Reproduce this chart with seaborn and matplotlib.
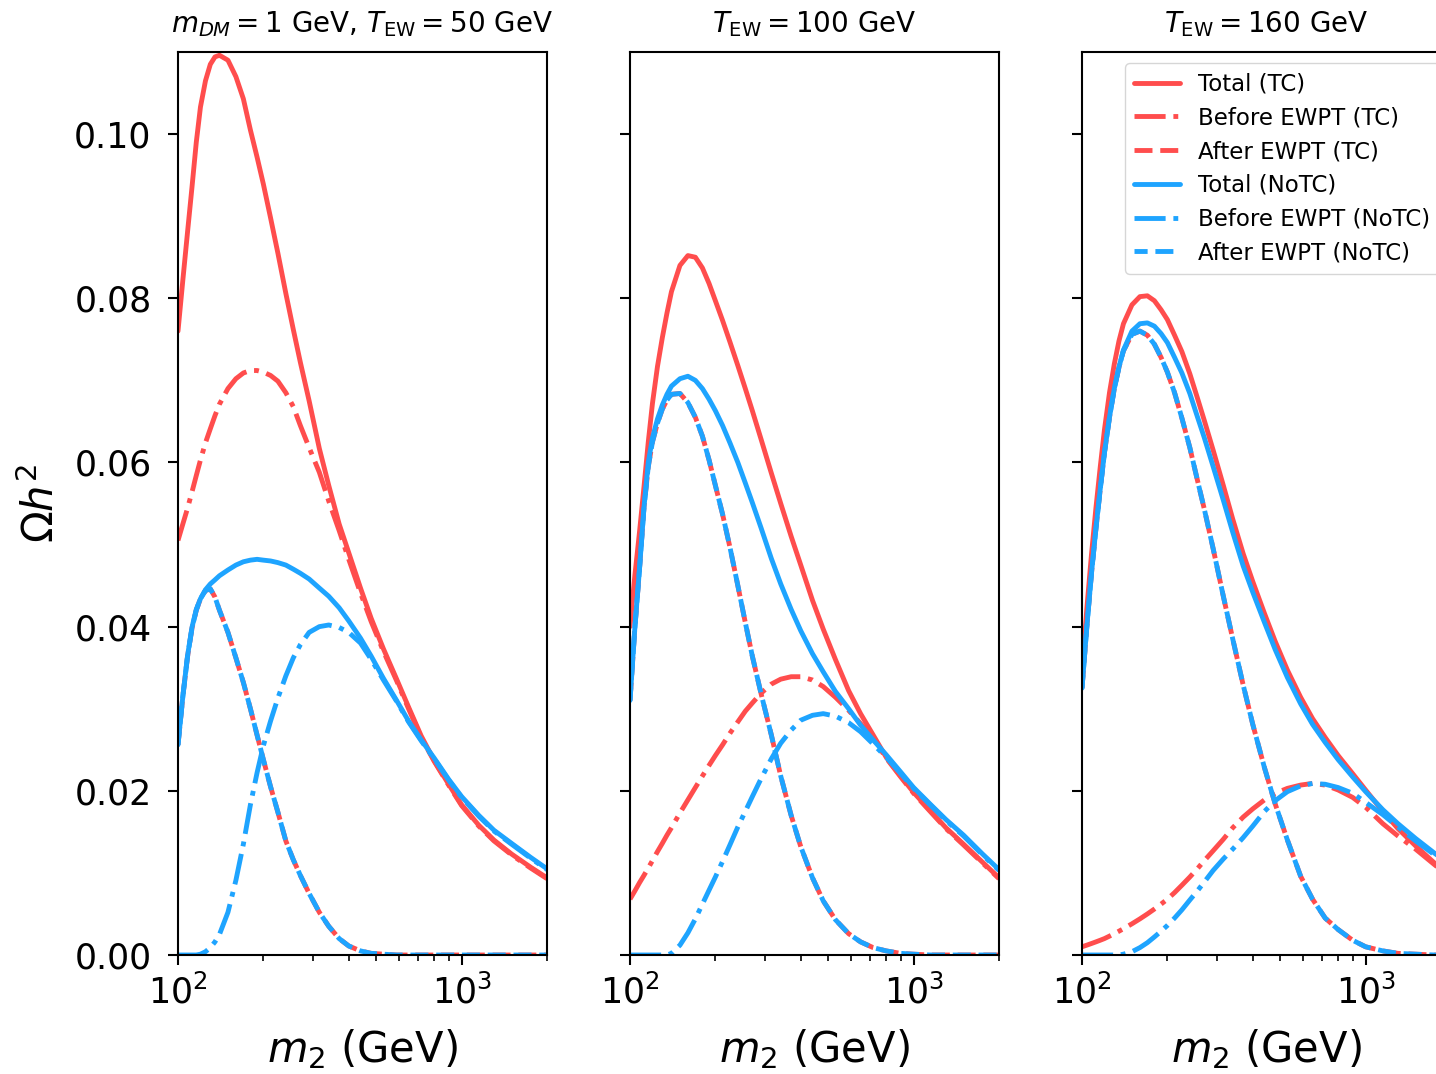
import numpy as np
import pandas as pd
import matplotlib
matplotlib.use("Agg")
import matplotlib.pyplot as plt
import seaborn as sns

# m_2 grid (GeV) shared by all curves
m2 = [100, 104, 108, 112, 116, 120, 125, 130, 135, 140,
      150, 160, 170, 180, 190, 200, 212, 225, 240, 255,
      270, 290, 315, 340, 370, 400, 440, 480, 530, 590,
      650, 720, 800, 900, 1000, 1150, 1300, 1500, 1750, 2000]

# panel 1: m_DM = 1 GeV, T_EW = 50 GeV
p1_total_tc = [0.0760, 0.0822, 0.0880, 0.0935, 0.0990, 0.1033, 0.1065, 0.1085, 0.1094, 0.1096,
               0.1090, 0.1070, 0.1043, 0.1005, 0.0972, 0.0939, 0.0898, 0.0855, 0.0806, 0.0762,
               0.0722, 0.0675, 0.0617, 0.0572, 0.0525, 0.0490, 0.0447, 0.0410, 0.0373, 0.0336,
               0.0302, 0.0267, 0.0237, 0.0208, 0.0183, 0.0158, 0.0140, 0.0123, 0.0107, 0.0094]
p1_before_tc = [0.0505, 0.0525, 0.0544, 0.0564, 0.0584, 0.0603, 0.0624, 0.0641, 0.0657, 0.0671,
                0.0690, 0.0702, 0.0709, 0.0712, 0.0712, 0.0710, 0.0706, 0.0699, 0.0685, 0.0668,
                0.0645, 0.0618, 0.0588, 0.0553, 0.0517, 0.0482, 0.0441, 0.0406, 0.0370, 0.0334,
                0.0300, 0.0265, 0.0236, 0.0207, 0.0182, 0.0157, 0.0139, 0.0122, 0.0106, 0.0093]
p1_after = [0.0256, 0.0315, 0.0363, 0.0398, 0.0420, 0.0434, 0.0444, 0.0446, 0.0436, 0.0420,
            0.0393, 0.0362, 0.0332, 0.0300, 0.0268, 0.0238, 0.0205, 0.0174, 0.0139, 0.0116,
            0.0097, 0.0075, 0.0052, 0.0035, 0.0020, 0.0011, 0.0005, 0.0002, 0.0001, 0.0,
            0.0, 0.0, 0.0, 0.0, 0.0, 0.0, 0.0, 0.0, 0.0, 0.0]
p1_total_notc = [0.0256, 0.0315, 0.0364, 0.0399, 0.0421, 0.0434, 0.0445, 0.0452, 0.0457, 0.0462,
                 0.0469, 0.0475, 0.0479, 0.0481, 0.0482, 0.0481, 0.0480, 0.0478, 0.0475, 0.0470,
                 0.0465, 0.0458, 0.0447, 0.0437, 0.0423, 0.0407, 0.0386, 0.0364, 0.0337, 0.0310,
                 0.0285, 0.0262, 0.0240, 0.0214, 0.0193, 0.0170, 0.0152, 0.0136, 0.0119, 0.0105]
p1_before_notc = [0.0, 0.0, 0.0, 0.0, 0.0, 0.0001, 0.0004, 0.0009, 0.0016, 0.0025,
                  0.0052, 0.0091, 0.0135, 0.0183, 0.0222, 0.0255, 0.0285, 0.0313, 0.0340, 0.0362,
                  0.0378, 0.0393, 0.0400, 0.0402, 0.0399, 0.0393, 0.0380, 0.0360, 0.0335, 0.0309,
                  0.0284, 0.0261, 0.0239, 0.0213, 0.0192, 0.0169, 0.0151, 0.0135, 0.0118, 0.0104]

# panel 2: T_EW = 100 GeV
p2_total_tc = [0.0400, 0.0462, 0.0515, 0.0570, 0.0625, 0.0672, 0.0717, 0.0752, 0.0782, 0.0808,
               0.0840, 0.0852, 0.0850, 0.0837, 0.0818, 0.0797, 0.0773, 0.0747, 0.0718, 0.0690,
               0.0663, 0.0628, 0.0587, 0.0550, 0.0510, 0.0475, 0.0432, 0.0397, 0.0360, 0.0322,
               0.0294, 0.0268, 0.0241, 0.0218, 0.0198, 0.0175, 0.0155, 0.0135, 0.0113, 0.0094]
p2_before_tc = [0.0068, 0.0078, 0.0088, 0.0097, 0.0106, 0.0115, 0.0126, 0.0136, 0.0146, 0.0155,
                0.0173, 0.0189, 0.0204, 0.0218, 0.0231, 0.0243, 0.0256, 0.0270, 0.0284, 0.0297,
                0.0307, 0.0319, 0.0330, 0.0336, 0.0339, 0.0339, 0.0335, 0.0327, 0.0314, 0.0298,
                0.0282, 0.0264, 0.0240, 0.0217, 0.0197, 0.0174, 0.0154, 0.0134, 0.0112, 0.0093]
p2_after = [0.0310, 0.0398, 0.0470, 0.0545, 0.0595, 0.0625, 0.0648, 0.0665, 0.0676, 0.0683,
            0.0684, 0.0673, 0.0655, 0.0632, 0.0603, 0.0572, 0.0537, 0.0497, 0.0450, 0.0405,
            0.0364, 0.0318, 0.0268, 0.0218, 0.0170, 0.0132, 0.0094, 0.0066, 0.0043, 0.0026,
            0.0016, 0.0009, 0.0005, 0.0002, 0.0001, 0.0, 0.0, 0.0, 0.0, 0.0]
p2_total_notc = [0.0310, 0.0398, 0.0470, 0.0545, 0.0600, 0.0630, 0.0653, 0.0670, 0.0683, 0.0693,
                 0.0702, 0.0705, 0.0700, 0.0690, 0.0677, 0.0663, 0.0645, 0.0624, 0.0600, 0.0575,
                 0.0551, 0.0520, 0.0483, 0.0452, 0.0421, 0.0395, 0.0367, 0.0345, 0.0321, 0.0300,
                 0.0280, 0.0262, 0.0244, 0.0223, 0.0204, 0.0183, 0.0165, 0.0146, 0.0123, 0.0104]
p2_before_notc = [0.0, 0.0, 0.0, 0.0, 0.0, 0.0, 0.0, 0.0, 0.0, 0.0002,
                  0.0012, 0.0027, 0.0044, 0.0062, 0.0079, 0.0095, 0.0114, 0.0134, 0.0156, 0.0175,
                  0.0193, 0.0215, 0.0239, 0.0258, 0.0274, 0.0286, 0.0292, 0.0294, 0.0291, 0.0283,
                  0.0272, 0.0257, 0.0241, 0.0221, 0.0203, 0.0182, 0.0164, 0.0145, 0.0122, 0.0103]

# panel 3: T_EW = 160 GeV
p3_total_tc = [0.0345, 0.0422, 0.0488, 0.0545, 0.0595, 0.0640, 0.0685, 0.0720, 0.0748, 0.0769,
               0.0792, 0.0802, 0.0803, 0.0797, 0.0786, 0.0774, 0.0755, 0.0735, 0.0708, 0.0679,
               0.0651, 0.0615, 0.0572, 0.0531, 0.0489, 0.0455, 0.0416, 0.0382, 0.0347, 0.0314,
               0.0288, 0.0265, 0.0243, 0.0221, 0.0201, 0.0175, 0.0154, 0.0133, 0.0112, 0.0097]
p3_before_tc = [0.0010, 0.0012, 0.0014, 0.0016, 0.0018, 0.0020, 0.0023, 0.0026, 0.0029, 0.0032,
                0.0038, 0.0044, 0.0050, 0.0056, 0.0062, 0.0068, 0.0076, 0.0085, 0.0095, 0.0105,
                0.0115, 0.0127, 0.0141, 0.0155, 0.0168, 0.0178, 0.0189, 0.0197, 0.0203, 0.0207,
                0.0209, 0.0207, 0.0201, 0.0192, 0.0180, 0.0160, 0.0145, 0.0129, 0.0110, 0.0094]
p3_after = [0.0325, 0.0400, 0.0465, 0.0520, 0.0568, 0.0612, 0.0655, 0.0690, 0.0716, 0.0736,
            0.0756, 0.0760, 0.0755, 0.0744, 0.0728, 0.0710, 0.0685, 0.0654, 0.0618, 0.0579,
            0.0543, 0.0495, 0.0437, 0.0385, 0.0329, 0.0281, 0.0228, 0.0184, 0.0140, 0.0096,
            0.0068, 0.0045, 0.0031, 0.0018, 0.0010, 0.0005, 0.0002, 0.0001, 0.0, 0.0]
p3_total_notc = [0.0325, 0.0400, 0.0465, 0.0520, 0.0568, 0.0612, 0.0655, 0.0690, 0.0716, 0.0737,
                 0.0760, 0.0769, 0.0770, 0.0766, 0.0757, 0.0746, 0.0728, 0.0709, 0.0684, 0.0656,
                 0.0630, 0.0595, 0.0554, 0.0515, 0.0474, 0.0442, 0.0405, 0.0372, 0.0338, 0.0306,
                 0.0281, 0.0259, 0.0238, 0.0217, 0.0199, 0.0177, 0.0160, 0.0142, 0.0124, 0.0109]
p3_before_notc = [0.0, 0.0, 0.0, 0.0, 0.0, 0.0, 0.0, 0.0, 0.0, 0.0001,
                  0.0004, 0.0009, 0.0015, 0.0022, 0.0029, 0.0036, 0.0045, 0.0055, 0.0067, 0.0078,
                  0.0089, 0.0103, 0.0117, 0.0129, 0.0143, 0.0157, 0.0175, 0.0188, 0.0199, 0.0206,
                  0.0209, 0.0208, 0.0204, 0.0197, 0.0186, 0.0171, 0.0156, 0.0139, 0.0122, 0.0108]

titles = [r"$m_{DM} = 1$ GeV, $T_{\rm EW} = 50$ GeV",
          r"$T_{\rm EW} = 100$ GeV",
          r"$T_{\rm EW} = 160$ GeV"]

panels = [
    (p1_total_tc, p1_before_tc, p1_after, p1_total_notc, p1_before_notc, p1_after),
    (p2_total_tc, p2_before_tc, p2_after, p2_total_notc, p2_before_notc, p2_after),
    (p3_total_tc, p3_before_tc, p3_after, p3_total_notc, p3_before_notc, p3_after),
]

labels = ["Total (TC)", "Before EWPT (TC)", "After EWPT (TC)",
          "Total (NoTC)", "Before EWPT (NoTC)", "After EWPT (NoTC)"]
red = "#ff4d4d"
blue = "#1ea4ff"
colors = [red, red, red, blue, blue, blue]
styles = ["-", "-.", (0, (3.7, 1.6)), "-", "-.", (1.0, (3.7, 1.6))]

sns.set_style("ticks")
plt.rcParams["font.family"] = ["DejaVu Sans"]
plt.rcParams["mathtext.fontset"] = "dejavusans"
plt.rcParams["axes.linewidth"] = 1.5
plt.rcParams["axes.edgecolor"] = "black"
plt.rcParams["text.color"] = "black"
plt.rcParams["axes.labelcolor"] = "black"
plt.rcParams["xtick.color"] = "black"
plt.rcParams["ytick.color"] = "black"

fig = plt.figure(figsize=(14.36, 10.74), dpi=100)
W, H = 1436, 1074
lefts = [178, 630, 1082]
ax_w, ax_bottom, ax_top = 369, 955, 52

for i, (left, series) in enumerate(zip(lefts, panels)):
    ax = fig.add_axes([left / W, (H - ax_bottom) / H, ax_w / W, (ax_bottom - ax_top) / H])
    for y, lab, c, ls in zip(series, labels, colors, styles):
        df = pd.DataFrame({"m2": m2, "omega": y})
        sns.lineplot(data=df, x="m2", y="omega", ax=ax, color=c, linestyle=ls,
                     lw=3.5, label=lab, errorbar=None, sort=False, legend=False)
    ax.set_xscale("log")
    ax.set_xlim(100, 2000)
    ax.set_ylim(0, 0.11)
    ax.set_yticks([0.0, 0.02, 0.04, 0.06, 0.08, 0.10])
    ax.set_yticklabels(["0.00", "0.02", "0.04", "0.06", "0.08", "0.10"])
    ax.tick_params(axis="both", which="major", labelsize=25, length=7, width=1.5)
    ax.tick_params(axis="y", which="major", pad=12)
    ax.tick_params(axis="x", which="major", pad=7)
    ax.tick_params(axis="x", which="minor", length=4, width=1.2)
    ax.set_xlabel(r"$m_2$ (GeV)", fontsize=30, labelpad=12)
    ax.set_title(titles[i], fontsize=20, pad=14)
    if i == 0:
        ax.set_ylabel(r"$\Omega h^2$", fontsize=30, labelpad=8)
    else:
        ax.set_ylabel("")
        ax.tick_params(axis="y", labelleft=False)
    if i == 2:
        ax.legend(loc="upper right", fontsize=16.5, labelspacing=0.47)

fig.savefig("out.png", dpi=100)
